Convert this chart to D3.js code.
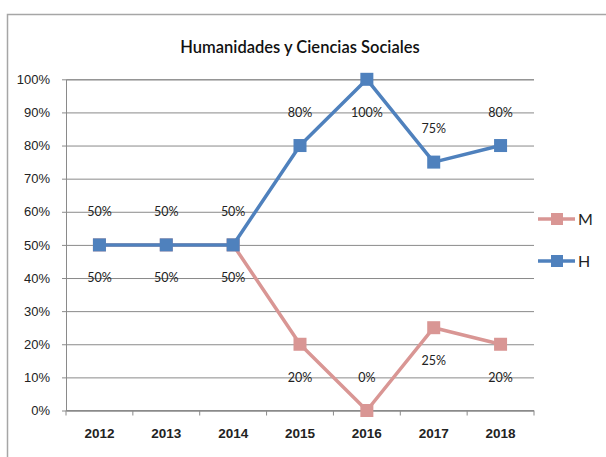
<!DOCTYPE html>
<html>
<head>
<meta charset="utf-8">
<script src="https://cdn.jsdelivr.net/npm/d3@7"></script>
<style>
  body { margin: 0; background: #fff; }
  svg { display: block; }
</style>
</head>
<body>
<svg id="chart"></svg>
<script>
const years = ["2012", "2013", "2014", "2015", "2016", "2017", "2018"];
const valuesM = [50, 50, 50, 20, 0, 25, 20];
const valuesH = [50, 50, 50, 80, 100, 75, 80];
const yTicks = [0, 10, 20, 30, 40, 50, 60, 70, 80, 90, 100];
const title = "Humanidades y Ciencias Sociales";

const width = 606, height = 457;
const margin = { left: 66, right: 72, top: 79.3, bottom: 46.5 };

const svg = d3.select("#chart")
    .attr("width", width)
    .attr("height", height)
    .style("font-family", "Lato, 'Open Sans', sans-serif");

const colorH = "#4f81bd";
const colorM = "#d99694";
const gridColor = "#8a8a8a";

// outer frame (cut off at right/bottom in the reference)
svg.append("rect")
    .attr("x", 7.5).attr("y", 14.5)
    .attr("width", width + 10).attr("height", height + 10)
    .attr("fill", "none")
    .attr("stroke", "#a6a6a6")
    .attr("stroke-width", 1.5);

const x = d3.scaleBand()
    .domain(years)
    .range([margin.left, width - margin.right]);

const y = d3.scaleLinear()
    .domain([0, 100])
    .range([height - margin.bottom, margin.top]);

// title
svg.append("text")
    .attr("x", 300).attr("y", 53)
    .attr("text-anchor", "middle")
    .attr("font-size", 16.5)
    .attr("font-weight", 600)
    .attr("fill", "#111")
    .text(title);

// gridlines + y axis
const yAxis = d3.axisLeft(y)
    .tickValues(yTicks)
    .tickSize(-(width - margin.right - margin.left))
    .tickPadding(14)
    .tickFormat(d => d + "%");

const gy = svg.append("g")
    .attr("transform", `translate(${margin.left},0)`)
    .call(yAxis);
gy.select(".domain").attr("stroke", gridColor);
gy.selectAll(".tick line").attr("stroke", gridColor).attr("x1", -4);
gy.selectAll(".tick text")
    .attr("font-size", 13)
    .attr("fill", "#222")
    .attr("x", -16);

// x axis
const xAxis = d3.axisBottom(x).tickSize(0).tickPadding(18);
const gx = svg.append("g")
    .attr("transform", `translate(0,${y(0)})`)
    .call(xAxis);
gx.select(".domain").attr("stroke", gridColor).attr("d", `M${margin.left},0H${width - margin.right}`);
gx.selectAll(".tick text")
    .attr("font-size", 13.5)
    .attr("font-weight", 700)
    .attr("fill", "#222");

// tick marks at category boundaries
const bounds = years.map(d => x(d)).concat([x(years[years.length - 1]) + x.bandwidth()]);
svg.append("g")
    .selectAll("line")
    .data(bounds)
    .join("line")
    .attr("x1", d => d).attr("x2", d => d)
    .attr("y1", y(0)).attr("y2", y(0) + 5)
    .attr("stroke", gridColor);

const cx = d => x(d) + x.bandwidth() / 2;

const series = [
  { name: "M", values: valuesM, color: colorM, below: true },
  { name: "H", values: valuesH, color: colorH, below: false }
];

const line = d3.line()
    .x((d, i) => cx(years[i]))
    .y(d => y(d));

const labelOffset = 33;

series.forEach(s => {
  const g = svg.append("g");
  g.append("path")
      .datum(s.values)
      .attr("d", line)
      .attr("fill", "none")
      .attr("stroke", s.color)
      .attr("stroke-width", 3.5)
      .attr("stroke-linejoin", "round");

  g.selectAll("rect")
      .data(s.values)
      .join("rect")
      .attr("x", (d, i) => cx(years[i]) - 6.5)
      .attr("y", d => y(d) - 6.5)
      .attr("width", 13).attr("height", 13)
      .attr("fill", s.color);

  // labels flip side when the point sits at the edge of the scale
  g.selectAll("text")
      .data(s.values)
      .join("text")
      .attr("x", (d, i) => cx(years[i]))
      .attr("y", d => {
        let below = s.below;
        if (d === 0) below = false;
        if (d === 100) below = true;
        return y(d) + (below ? labelOffset : -labelOffset);
      })
      .attr("dy", "0.35em")
      .attr("text-anchor", "middle")
      .attr("font-size", 12.5)
      .attr("fill", "#222")
      .text(d => d + "%");
});

// legend
const legend = svg.append("g")
    .selectAll("g")
    .data(series)
    .join("g")
    .attr("transform", (d, i) => `translate(538,${219 + i * 42})`);

legend.append("line")
    .attr("x1", 0).attr("x2", 37)
    .attr("stroke", d => d.color)
    .attr("stroke-width", 3.5);
legend.append("rect")
    .attr("x", 13).attr("y", -6)
    .attr("width", 12).attr("height", 12)
    .attr("fill", d => d.color);
legend.append("text")
    .attr("x", 40).attr("dy", "0.36em")
    .attr("font-size", 16)
    .attr("fill", "#222")
    .text(d => d.name);
</script>
</body>
</html>
